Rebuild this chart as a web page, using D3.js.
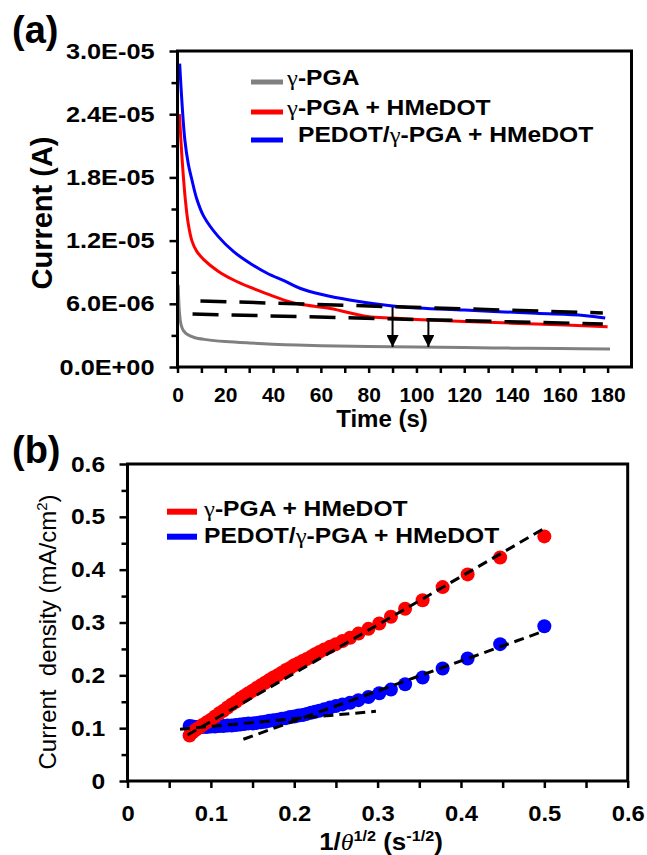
<!DOCTYPE html>
<html>
<head>
<meta charset="utf-8">
<script src="https://cdn.jsdelivr.net/npm/d3@7/dist/d3.min.js"></script>
<style>
  body { margin: 0; background: #fff; }
  svg { display: block; font-family: "Liberation Sans", Arial, sans-serif; }
</style>
</head>
<body>
<script>
// ---- panel (a): current vs time ----
const grayT = [0.3, 0.8, 1.5, 2.5, 4, 7, 12, 20, 30, 45, 60, 80, 100, 120, 140, 160, 181];
const grayI = [7.8e-6, 5.2e-6, 4.0e-6, 3.45e-6, 3.1e-6, 2.8e-6, 2.6e-6, 2.42e-6, 2.28e-6, 2.12e-6, 2.02e-6, 1.95e-6, 1.9e-6, 1.84e-6, 1.79e-6, 1.75e-6, 1.72e-6];

const redT = [0.8, 2, 3.3, 4.5, 6, 8, 11, 17, 23.5, 30, 37.5, 46, 51.5, 64, 79.5, 90, 105, 120, 150, 180];
const redI = [2.4e-5, 1.95e-5, 1.585e-5, 1.36e-5, 1.2e-5, 1.1e-5, 1.02e-5, 9.1e-6, 8.26e-6, 7.6e-6, 6.95e-6, 6.25e-6, 5.95e-6, 5.55e-6, 4.8e-6, 4.65e-6, 4.46e-6, 4.32e-6, 4.08e-6, 3.83e-6];

const blueT = [0.9, 1.9, 3.1, 4.5, 6, 8, 11, 17, 23.5, 30, 37.5, 45, 51.5, 60, 72, 93, 120, 150, 170, 179];
const blueI = [2.88e-5, 2.5e-5, 2.15e-5, 1.93e-5, 1.78e-5, 1.6e-5, 1.43e-5, 1.24e-5, 1.095e-5, 9.9e-6, 8.9e-6, 8.15e-6, 7.45e-6, 6.9e-6, 6.36e-6, 5.72e-6, 5.4e-6, 5.1e-6, 4.9e-6, 4.65e-6];

// dashed guide lines (two end points each)
const guideUpperT = [9.6, 178];
const guideUpperI = [6.27e-6, 5.13e-6];
const guideLowerT = [6.3, 178];
const guideLowerI = [5.03e-6, 4.08e-6];

// arrows
const arrowT = [90, 105];
const arrowTop = [5.7e-6, 4.4e-6];
const arrowBottom = [1.9e-6, 1.9e-6];

const legendA = ['γ-PGA', 'γ-PGA + HMeDOT', 'PEDOT/γ-PGA + HMeDOT'];
const tickA_y = [0, 6e-6, 1.2e-5, 1.8e-5, 2.4e-5, 3e-5];
const minorA_y = [3e-6, 9e-6, 1.5e-5, 2.1e-5, 2.7e-5];
const tickA_x = [0, 20, 40, 60, 80, 100, 120, 140, 160, 180];
const minorA_x = [10, 30, 50, 70, 90, 110, 130, 150, 170];

// ---- panel (b): current density vs 1/sqrt(t) ----
const redX = [0.0745, 0.078, 0.082, 0.086, 0.090, 0.095, 0.100, 0.105, 0.110, 0.115, 0.120, 0.125, 0.130, 0.135, 0.140, 0.145, 0.150, 0.155, 0.160, 0.165, 0.170, 0.175, 0.180, 0.185, 0.190, 0.195, 0.200, 0.205, 0.210, 0.215, 0.220, 0.225, 0.230, 0.236, 0.243, 0.250, 0.258, 0.267, 0.277, 0.289, 0.302, 0.316, 0.333, 0.354, 0.378, 0.408, 0.447, 0.500];
const redJ = [0.086, 0.092, 0.097, 0.101, 0.106, 0.111, 0.116, 0.122, 0.128, 0.133, 0.139, 0.145, 0.150, 0.156, 0.161, 0.166, 0.171, 0.176, 0.181, 0.186, 0.191, 0.196, 0.200, 0.205, 0.210, 0.214, 0.219, 0.223, 0.227, 0.231, 0.235, 0.240, 0.244, 0.249, 0.254, 0.259, 0.265, 0.271, 0.279, 0.288, 0.298, 0.311, 0.326, 0.342, 0.367, 0.391, 0.423, 0.463];

const blueX = [0.0745, 0.078, 0.082, 0.086, 0.090, 0.095, 0.100, 0.105, 0.110, 0.115, 0.120, 0.125, 0.130, 0.135, 0.140, 0.145, 0.150, 0.155, 0.160, 0.165, 0.170, 0.175, 0.180, 0.185, 0.190, 0.195, 0.200, 0.205, 0.210, 0.215, 0.220, 0.225, 0.230, 0.236, 0.243, 0.250, 0.258, 0.267, 0.277, 0.289, 0.302, 0.316, 0.333, 0.354, 0.378, 0.408, 0.447, 0.500];
const blueJ = [0.104, 0.103, 0.102, 0.102, 0.102, 0.102, 0.103, 0.103, 0.104, 0.104, 0.105, 0.105, 0.106, 0.107, 0.108, 0.109, 0.109, 0.110, 0.111, 0.112, 0.114, 0.115, 0.116, 0.118, 0.119, 0.121, 0.122, 0.124, 0.125, 0.127, 0.129, 0.131, 0.133, 0.136, 0.139, 0.142, 0.145, 0.148, 0.153, 0.159, 0.166, 0.173, 0.183, 0.196, 0.213, 0.232, 0.259, 0.293];

// linear fits (end points)
const fitRedX = [0.072, 0.502];
const fitRedJ = [0.087, 0.480];
const fitBlue1X = [0.063, 0.298];
const fitBlue1J = [0.098, 0.132];
const fitBlue2X = [0.139, 0.500];
const fitBlue2J = [0.079, 0.284];

const legendB = ['γ-PGA + HMeDOT', 'PEDOT/γ-PGA + HMeDOT'];
const tickB = [0, 0.1, 0.2, 0.3, 0.4, 0.5, 0.6];
const minorB = [0.05, 0.15, 0.25, 0.35, 0.45, 0.55];

const colors = { gray: '#808080', red: '#ff0000', blue: '#0000ff' };

const svg = d3.select('body').append('svg')
  .attr('width', 647)
  .attr('height', 855);

svg.append('rect').attr('width', 647).attr('height', 855).attr('fill', '#fff');

// text with gamma in a thin serif face
function addRichText(sel, str) {
  str.split(/(γ)/).filter(s => s.length).forEach(part => {
    const t = sel.append('tspan').text(part);
    if (part === 'γ') t.attr('font-family', '"Liberation Serif", serif').attr('font-weight', 'normal');
  });
}

function fmtE(v) {
  const [m, e] = v.toExponential(1).split('e');
  const n = +e;
  return `${m}E${n < 0 ? '-' : '+'}${String(Math.abs(n)).padStart(2, '0')}`;
}

function styleAxis(g, size, sx) {
  g.attr('font-family', null).attr('font-size', null);
  g.select('.domain').remove();
  g.selectAll('line').attr('stroke', '#000').attr('stroke-width', 2.5);
  g.selectAll('text')
    .attr('fill', '#000')
    .attr('font-size', size)
    .attr('font-weight', 'bold')
    .attr('transform', `scale(${sx},1)`);
}

// ================= Panel (a) =================
const xA = d3.scaleLinear().domain([0, 190]).range([177.5, 631.5]);
const yA = d3.scaleLinear().domain([0, 3e-5]).range([367, 51]);

const gA = svg.append('g');

const lineA = d3.line()
  .x(d => xA(d[0]))
  .y(d => yA(d[1]))
  .curve(d3.curveCatmullRom.alpha(0.5));

[[grayT, grayI, colors.gray], [redT, redI, colors.red], [blueT, blueI, colors.blue]].forEach(([t, v, c]) => {
  gA.append('path')
    .datum(d3.zip(t, v))
    .attr('d', lineA)
    .attr('fill', 'none')
    .attr('stroke', c)
    .attr('stroke-width', 3);
});

[[guideUpperT, guideUpperI], [guideLowerT, guideLowerI]].forEach(([t, v]) => {
  gA.append('path')
    .datum(d3.zip(t, v))
    .attr('d', d3.line().x(d => xA(d[0])).y(d => yA(d[1])))
    .attr('fill', 'none')
    .attr('stroke', '#000')
    .attr('stroke-width', 3.5)
    .attr('stroke-dasharray', '26,13');
});

// arrow head
svg.append('defs').append('marker')
  .attr('id', 'arrowHead')
  .attr('viewBox', '0 0 10 10')
  .attr('refX', 10)
  .attr('refY', 5)
  .attr('markerUnits', 'userSpaceOnUse')
  .attr('markerWidth', 13)
  .attr('markerHeight', 12)
  .attr('orient', 'auto')
  .append('path')
  .attr('d', 'M0,0 L10,5 L0,10 Z')
  .attr('fill', '#000');

arrowT.forEach((t, i) => {
  gA.append('line')
    .attr('x1', xA(t)).attr('x2', xA(t))
    .attr('y1', yA(arrowTop[i])).attr('y2', yA(arrowBottom[i]))
    .attr('stroke', '#000')
    .attr('stroke-width', 2)
    .attr('marker-end', 'url(#arrowHead)');
});

// frame
gA.append('rect')
  .attr('x', xA(0)).attr('y', yA(3e-5))
  .attr('width', xA(190) - xA(0))
  .attr('height', yA(0) - yA(3e-5))
  .attr('fill', 'none')
  .attr('stroke', '#000')
  .attr('stroke-width', 3);

// axes
gA.append('g')
  .attr('transform', `translate(${xA(0)},0)`)
  .call(d3.axisLeft(yA).tickValues(tickA_y).tickFormat(fmtE).tickSize(8).tickPadding(12))
  .call(g => styleAxis(g, 22, 1.15));
gA.append('g')
  .attr('transform', `translate(${xA(0)},0)`)
  .call(d3.axisLeft(yA).tickValues(minorA_y).tickFormat('').tickSize(6))
  .call(g => styleAxis(g, 22, 1));
gA.append('g')
  .attr('transform', `translate(0,${yA(0)})`)
  .call(d3.axisBottom(xA).tickValues(tickA_x).tickFormat(d3.format('d')).tickSize(6).tickPadding(14))
  .call(g => styleAxis(g, 21, 1));
gA.append('g')
  .attr('transform', `translate(0,${yA(0)})`)
  .call(d3.axisBottom(xA).tickValues(minorA_x).tickFormat('').tickSize(6))
  .call(g => styleAxis(g, 21, 1));

// titles
gA.append('text')
  .attr('x', 382).attr('y', 427)
  .attr('text-anchor', 'middle')
  .attr('font-size', 24)
  .attr('font-weight', 'bold')
  .text('Time (s)');

gA.append('text')
  .attr('transform', 'translate(52,213) rotate(-90)')
  .attr('text-anchor', 'middle')
  .attr('font-size', 29)
  .attr('font-weight', 'bold')
  .text('Current (A)');

gA.append('text')
  .attr('x', 12).attr('y', 43)
  .attr('font-size', 38)
  .attr('font-weight', 'bold')
  .text('(a)');

// legend (a)
const legA = gA.append('g');
const legAColors = [colors.gray, colors.red, colors.blue];
const legARowY = [82, 112, 140];
const legATextY = [85, 115, 142];
const legATextX = [287, 287, 298];
legendA.forEach((label, i) => {
  legA.append('line')
    .attr('x1', 251).attr('x2', 283)
    .attr('y1', legARowY[i]).attr('y2', legARowY[i])
    .attr('stroke', legAColors[i])
    .attr('stroke-width', 5);
  const t = legA.append('text')
    .attr('transform', `translate(${legATextX[i]},${legATextY[i]}) scale(1.12,1)`)
    .attr('font-size', 22)
    .attr('font-weight', 'bold');
  addRichText(t, label);
});

// ================= Panel (b) =================
const xB = d3.scaleLinear().domain([0, 0.6]).range([127.5, 627.7]);
const yB = d3.scaleLinear().domain([0, 0.6]).range([781, 464]);

const gB = svg.append('g');

[[blueX, blueJ, colors.blue], [redX, redJ, colors.red]].forEach(([xs, ys, c]) => {
  gB.append('g')
    .selectAll('circle')
    .data(d3.zip(xs, ys))
    .enter()
    .append('circle')
    .attr('cx', d => xB(d[0]))
    .attr('cy', d => yB(d[1]))
    .attr('r', 7)
    .attr('fill', c);
});

[[fitRedX, fitRedJ], [fitBlue1X, fitBlue1J], [fitBlue2X, fitBlue2J]].forEach(([xs, ys]) => {
  gB.append('path')
    .datum(d3.zip(xs, ys))
    .attr('d', d3.line().x(d => xB(d[0])).y(d => yB(d[1])))
    .attr('fill', 'none')
    .attr('stroke', '#000')
    .attr('stroke-width', 3)
    .attr('stroke-dasharray', '10,6');
});

gB.append('rect')
  .attr('x', xB(0)).attr('y', yB(0.6))
  .attr('width', xB(0.6) - xB(0))
  .attr('height', yB(0) - yB(0.6))
  .attr('fill', 'none')
  .attr('stroke', '#000')
  .attr('stroke-width', 3);

gB.append('g')
  .attr('transform', `translate(${xB(0)},0)`)
  .call(d3.axisLeft(yB).tickValues(tickB).tickFormat(d3.format('')).tickSize(8).tickPadding(12))
  .call(g => styleAxis(g, 22, 1.12));
gB.append('g')
  .attr('transform', `translate(${xB(0)},0)`)
  .call(d3.axisLeft(yB).tickValues(minorB).tickFormat('').tickSize(6))
  .call(g => styleAxis(g, 22, 1));
gB.append('g')
  .attr('transform', `translate(0,${yB(0)})`)
  .call(d3.axisBottom(xB).tickValues(tickB).tickFormat(d3.format('')).tickSize(7).tickPadding(17))
  .call(g => styleAxis(g, 22, 1.08));
gB.append('g')
  .attr('transform', `translate(0,${yB(0)})`)
  .call(d3.axisBottom(xB).tickValues(minorB).tickFormat('').tickSize(7))
  .call(g => styleAxis(g, 22, 1));

// y title (regular weight)
const yTitleB = gB.append('text')
  .attr('transform', 'translate(56,632) rotate(-90)')
  .attr('text-anchor', 'middle')
  .attr('font-size', 24);
yTitleB.append('tspan').text('Current\u00a0 density (mA/cm');
yTitleB.append('tspan').attr('dy', -9).attr('font-size', 15).text('2');
yTitleB.append('tspan').attr('dy', 9).text(')');

// x title
const xTitleB = gB.append('text')
  .attr('transform', 'translate(381,850) scale(1.08,1)')
  .attr('text-anchor', 'middle')
  .attr('font-size', 24)
  .attr('font-weight', 'bold');
xTitleB.append('tspan').text('1/');
xTitleB.append('tspan')
  .attr('font-family', '"Liberation Serif", serif')
  .attr('font-style', 'italic')
  .attr('font-weight', 'normal')
  .text('θ');
xTitleB.append('tspan').attr('dy', -9).attr('font-size', 15).text('1/2');
xTitleB.append('tspan').attr('dy', 9).text(' (s');
xTitleB.append('tspan').attr('dy', -9).attr('font-size', 15).text('-1/2');
xTitleB.append('tspan').attr('dy', 9).text(')');

gB.append('text')
  .attr('x', 12).attr('y', 463)
  .attr('font-size', 38)
  .attr('font-weight', 'bold')
  .text('(b)');

// legend (b)
const legB = gB.append('g');
const legBColors = [colors.red, colors.blue];
const legBRowY = [511.7, 536.7];
const legBTextY = [516, 543];
legendB.forEach((label, i) => {
  legB.append('line')
    .attr('x1', 167).attr('x2', 197)
    .attr('y1', legBRowY[i]).attr('y2', legBRowY[i])
    .attr('stroke', legBColors[i])
    .attr('stroke-width', 6);
  const t = legB.append('text')
    .attr('transform', `translate(204,${legBTextY[i]}) scale(1.12,1)`)
    .attr('font-size', 22)
    .attr('font-weight', 'bold');
  addRichText(t, label);
});
</script>
</body>
</html>
